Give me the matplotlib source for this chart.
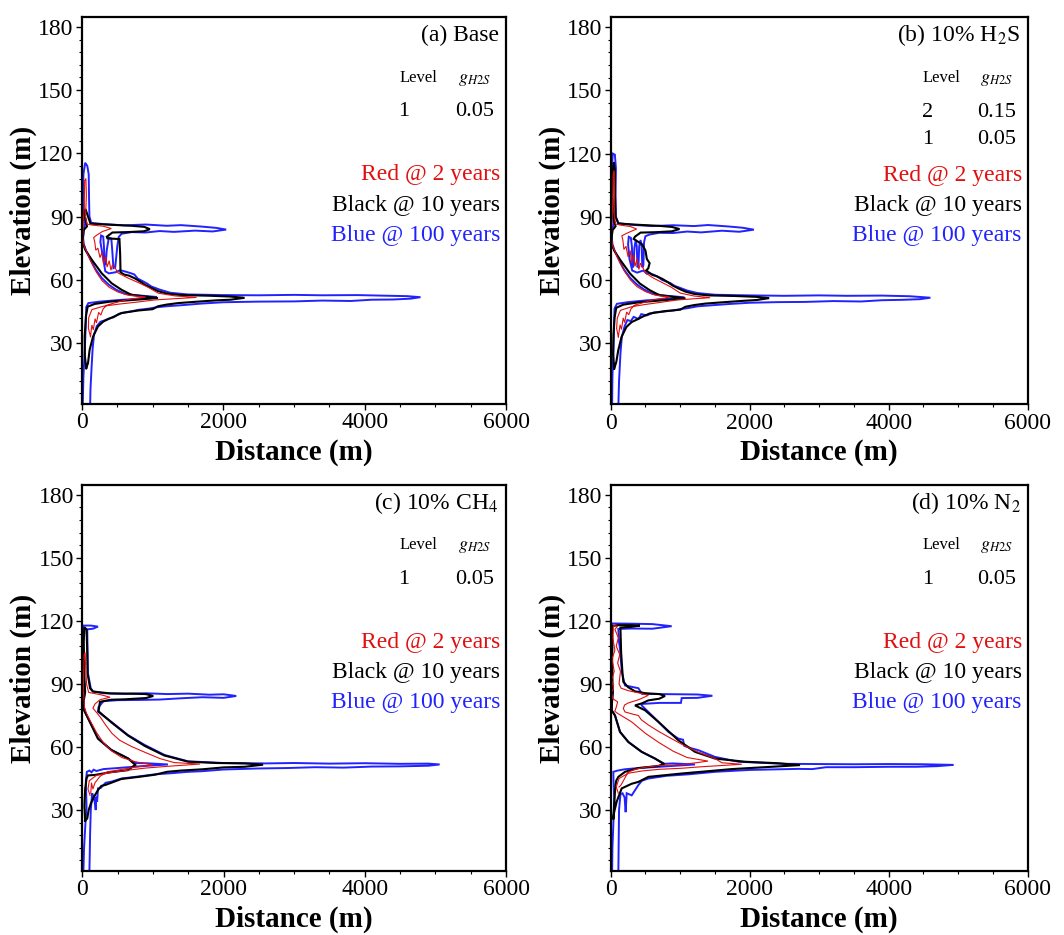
import matplotlib
matplotlib.use("Agg")
import matplotlib.pyplot as plt
from matplotlib.ticker import MultipleLocator

plt.rcParams['font.family'] = ['Liberation Serif', 'DejaVu Serif']
plt.rcParams['mathtext.fontset'] = 'stix'

# ---- contour traces (distance m, elevation m), g_H2S = 0.05 ------------------
A_BLUE = [(10, 0), (20, 14), (40, 27), (55, 40), (60, 47), (90, 48.9), (250, 49.6), (500, 50.3), (800, 51.0), (1060, 51.8),
          (750, 52.7), (600, 53.4), (480, 55.3), (380, 57.6), (280, 60.8), (190, 65), (120, 69.5), (60, 73.5), (25, 77), (15, 80),
          (25, 84), (45, 86.5), (30, 90), (15, 98), (20, 110), (45, 115.5), (75, 114), (95, 110), (100, 98), (105, 90),
          (130, 87), (300, 86.4), (600, 85.8), (900, 86.2), (1200, 85.6), (1400, 85.9), (1700, 85.2), (1900, 84.6), (2040, 83.8), (1850, 82.9),
          (1600, 83.3), (1300, 82.7), (1100, 83.1), (900, 82.4), (700, 82.6), (560, 81.8), (520, 80.3), (500, 76), (470, 66), (445, 65.5),
          (430, 73), (415, 79.5), (380, 80), (350, 74), (335, 67), (320, 68), (310, 76), (300, 80.5), (270, 81), (260, 78),
          (290, 72), (330, 64), (380, 63), (470, 63.5), (540, 64.5), (600, 64), (680, 63.2), (740, 62.5), (790, 60.5), (860, 59.3),
          (920, 58.2), (980, 56.8), (1100, 55.3), (1250, 53.8), (1500, 53.0), (2000, 52.7), (2500, 52.6), (3000, 52.8), (3400, 52.6), (3900, 52.7),
          (4300, 52.4), (4600, 52.2), (4790, 51.7), (4650, 51.0), (4400, 50.6), (4100, 50.5), (3800, 49.9), (3400, 50.1), (3000, 49.7), (2500, 49.6),
          (2000, 49.3), (1700, 48.7), (1450, 48.0), (1200, 47.4), (1050, 46.9), (950, 46.3), (800, 45.7), (700, 45.0), (600, 44.4), (520, 43.8),
          (450, 42.2), (380, 41.5), (320, 40.7), (260, 40), (210, 38), (170, 34), (150, 27), (135, 18), (120, 8), (115, 0)]
A_BLACK = [(60, 18), (40, 24), (38, 33), (55, 42.5), (80, 47.2), (180, 48.5), (400, 49.6), (650, 50.2), (1075, 51.3), (700, 52.8),
           (560, 55.2), (420, 58.3), (280, 63), (140, 69.4), (50, 74), (10, 77.3), (15, 80.5), (25, 83.6), (70, 85.3), (55, 88),
           (40, 90), (30, 92), (50, 93.5), (75, 91), (120, 86.6), (400, 86.1), (700, 85.6), (880, 85.1),
           (960, 84.0), (880, 83.0), (650, 82.6), (430, 82.4), (350, 80.4), (360, 79.6), (530, 79.3), (540, 72), (545, 63.5), (600, 62.4),
           (660, 62.0), (745, 60.7), (820, 59.2), (890, 57.6), (980, 56.1), (1075, 54.6), (1200, 53.4), (1400, 52.7), (1800, 52.4), (2100, 52.0),
           (2300, 51.4), (2100, 50.5), (1900, 50.2), (1600, 49.5), (1360, 48.9), (1200, 48.2), (1075, 47.4), (1000, 46.0), (800, 45.4), (560, 44.2),
           (460, 42.6), (370, 41.3), (300, 40.1), (226, 37.8), (156, 33), (108, 26.7), (85, 20.4), (60, 18)]
A_RED = [(120, 33), (90, 37), (95, 42), (140, 45.8), (300, 47.4), (520, 48.4), (760, 49.3), (1030, 50.4), (1320, 51.0), (1620, 51.6),
         (1320, 52.3), (1080, 53.6), (930, 56.5), (800, 58.6), (650, 60.8), (510, 63.2), (470, 65.5), (430, 67), (410, 64.5), (385, 69),
         (355, 66), (335, 71), (305, 67.5), (285, 73), (255, 70.5), (225, 75), (195, 74), (180, 78), (165, 80), (210, 81.2),
         (290, 82.9), (415, 84.3), (300, 85.4), (150, 85.9), (70, 86.4), (50, 90), (62, 100), (55, 108), (38, 107), (32, 95),
         (20, 88), (10, 80), (30, 76), (75, 72.5), (135, 68), (205, 63.5), (285, 59.5), (385, 56.4), (505, 54.2), (655, 52.6),
         (900, 51.8), (620, 50.4), (430, 48.7), (350, 47.9), (300, 46.2), (265, 43.2), (235, 44.5), (205, 39.5), (185, 41.5), (160, 36.2),
         (140, 38.5), (120, 33)]

B_BLUE = [(20, 0), (25, 14), (40, 27), (50, 40), (55, 46.5), (90, 48.7), (250, 49.5), (500, 50.3), (800, 51.0), (1060, 51.8),
          (750, 52.7), (600, 53.5), (480, 55.5), (380, 57.8), (280, 61), (190, 65), (120, 69.5), (60, 73.5), (25, 77), (15, 80),
          (25, 84), (40, 87), (25, 92), (10, 100), (15, 112), (30, 120), (60, 119.5), (75, 113), (70, 100), (75, 90),
          (110, 87), (300, 86.2), (600, 85.6), (900, 86.0), (1200, 85.6), (1400, 86.1), (1700, 85.4), (1900, 84.8), (2060, 83.9), (1850, 82.9),
          (1600, 83.4), (1300, 82.6), (1100, 83.0), (900, 82.3), (700, 82.4), (560, 81.6), (500, 80.8), (480, 78), (470, 67), (455, 66),
          (445, 76), (430, 79), (410, 76), (400, 67), (385, 66), (375, 76), (360, 79), (340, 75), (330, 67), (315, 66),
          (305, 76), (290, 80), (260, 80.5), (250, 77), (270, 70), (310, 64.5), (380, 63.5), (470, 64.5), (520, 63), (560, 63.2),
          (620, 62.5), (680, 61.5), (740, 60), (800, 59.3), (860, 58.5), (920, 57.2), (980, 56.5), (1100, 55), (1250, 53.8), (1500, 53.0),
          (2000, 52.7), (2500, 52.5), (3000, 52.7), (3400, 52.5), (3900, 52.6), (4300, 52.3), (4600, 51.6), (4450, 50.9), (4200, 50.6), (3900, 50.4),
          (3600, 49.8), (3200, 50.0), (2800, 49.6), (2400, 49.5), (2000, 49.2), (1700, 48.6), (1450, 48.0), (1250, 47.5), (1100, 46.6), (1000, 46.2),
          (900, 45.5), (750, 45.0), (620, 44.6), (520, 43.2), (440, 43.8), (400, 41.5), (330, 42.5), (290, 40.5), (240, 41), (200, 38),
          (160, 33), (140, 25), (120, 12), (110, 0)]
B_BLACK = [(50, 18), (35, 25), (40, 34), (55, 42), (80, 46.8), (180, 48.3), (400, 49.4), (650, 50.1), (1075, 51.3), (700, 52.8),
           (560, 55.2), (420, 58.3), (280, 63), (140, 69.4), (50, 74), (10, 77.3), (15, 80.5), (25, 83.6), (70, 85.5), (50, 88),
           (35, 92), (25, 100), (30, 112), (45, 116), (60, 112), (62, 100), (70, 90), (110, 86.8), (400, 86.2), (700, 85.7),
           (880, 85.2), (990, 84.2), (880, 83.1), (650, 82.7), (430, 82.5), (350, 80.6), (330, 79.5), (450, 77), (500, 74), (520, 70),
           (560, 68), (540, 65.5), (510, 64.5), (600, 62.4), (660, 61.8), (745, 60.5), (820, 59), (890, 57.4), (980, 55.9), (1075, 54.5),
           (1200, 53.4), (1400, 52.7), (1800, 52.4), (2100, 52.0), (2280, 51.4), (2100, 50.5), (1900, 50.1), (1600, 49.4), (1360, 48.8), (1200, 48.1),
           (1075, 47.3), (1000, 45.9), (800, 45.3), (560, 44.1), (460, 42.6), (370, 41.1), (300, 40), (226, 37.7), (156, 33), (108, 26.5),
           (80, 21), (50, 18)]
B_RED = [(110, 33), (85, 37), (95, 42), (140, 45.6), (300, 47.3), (500, 48.4), (720, 49.4), (950, 50.5), (1200, 51.1), (1430, 51.6),
         (1200, 52.4), (1000, 53.8), (870, 56.6), (740, 58.8), (610, 61), (500, 63.4), (460, 66), (430, 68), (405, 65), (380, 70),
         (350, 66.5), (330, 72), (300, 68), (280, 74), (250, 71), (220, 76), (190, 74.5), (175, 79), (160, 81), (220, 82),
         (300, 83.2), (374, 84.2), (280, 85.4), (150, 86), (70, 86.6), (45, 92), (55, 102), (50, 112), (35, 110), (28, 96),
         (18, 88), (10, 80), (30, 76), (75, 72.5), (135, 68), (205, 63.8), (285, 60), (380, 56.8), (500, 54.5), (640, 52.8),
         (850, 51.9), (600, 50.5), (420, 48.8), (340, 48), (290, 46.2), (260, 43.5), (230, 44.8), (200, 39.8), (180, 42), (155, 36.5),
         (135, 38.8), (110, 33)]

C_BLUE = [(15, 0), (25, 12), (45, 24), (60, 31), (55, 38), (50, 44), (65, 48.2), (100, 48.8), (130, 48.0), (160, 49.2),
          (200, 48.6), (300, 49.5), (500, 50.0), (800, 50.8), (1213, 51.7), (900, 52.3), (741, 52.4), (647, 54.6), (411, 58.6), (222, 64),
          (128, 70.5), (40, 76.5), (15, 80), (25, 84), (40, 86.5), (30, 91), (20, 100), (15, 110), (20, 117.8), (120, 117.8),
          (222, 117.3), (150, 116.3), (70, 116), (75, 105), (80, 95), (120, 88), (150, 86.5), (300, 85.6), (600, 85.3), (900, 85.6),
          (1200, 85.2), (1500, 85.4), (1800, 84.9), (2000, 85.1), (2180, 84.3), (2000, 83.4), (1700, 83.7), (1400, 83.2), (1100, 82.6), (800, 82.4),
          (500, 82.3), (300, 81.8), (230, 79), (222, 76.8), (411, 72), (647, 65.7), (883, 61), (1166, 56.2), (1497, 53.2), (2000, 52.4),
          (2600, 52.2), (3000, 52.4), (3500, 52.1), (4000, 52.3), (4500, 52.0), (4900, 52.1), (5060, 51.7), (4900, 51.1), (4500, 50.8), (4100, 50.7),
          (3700, 50.2), (3300, 50.4), (2900, 50.0), (2500, 49.8), (2000, 49.3), (1700, 48.5), (1497, 48.2), (1250, 47.5), (1025, 47), (800, 46),
          (553, 45), (411, 43.5), (330, 43), (260, 40.5), (222, 40.3), (210, 34), (199, 36.3), (190, 30), (175, 34), (160, 36),
          (140, 38), (120, 30), (110, 18), (105, 8), (100, 0)]
C_BLACK = [(40, 25), (30, 32), (40, 40), (60, 45), (80, 46.5), (175, 46.7), (400, 48), (647, 49), (750, 51.5), (647, 54.6),
           (411, 58.6), (222, 64), (128, 70.5), (40, 76.5), (15, 78), (20, 82), (40, 86), (30, 92), (25, 100), (20, 110),
           (30, 117), (60, 116), (70, 105), (75, 95), (110, 88), (150, 86.4), (400, 85.5), (700, 85.4), (900, 85.2), (1005, 84.3),
           (900, 83.3), (600, 82.7), (400, 82.5), (250, 81.5), (230, 77), (420, 71.5), (650, 65.4), (880, 60.6), (1160, 56.0), (1500, 53.0),
           (1900, 52.4), (2300, 52.2), (2560, 51.6), (2300, 50.6), (2000, 50.3), (1700, 49.4), (1400, 48.8), (1200, 48.2), (1025, 46.8), (800, 45.8),
           (553, 44.8), (411, 43), (330, 42), (270, 41.5), (222, 39.5), (160, 36), (120, 33), (90, 30), (70, 26), (40, 25)]
C_RED = [(110, 37), (80, 40), (100, 44), (200, 46.5), (400, 47.8), (650, 49), (900, 50), (1200, 50.8), (1667, 51.9), (1300, 52.6),
         (1100, 54.5), (900, 57.3), (700, 60.2), (530, 63.2), (420, 66.5), (330, 70.5), (260, 74), (200, 76.5), (150, 78.5), (180, 80.5),
         (250, 82.5), (392, 83.7), (260, 84.9), (150, 85.6), (90, 86), (60, 90), (45, 100), (40, 105), (25, 104), (20, 95),
         (15, 88), (25, 82), (30, 79), (60, 76), (120, 72), (200, 67), (300, 62), (420, 58), (560, 55), (750, 53),
         (1000, 51.5), (700, 50.2), (500, 49), (350, 48.2), (250, 46), (180, 43), (150, 40), (130, 43), (120, 38)]

D_BLUE = [(20, 0), (25, 12), (40, 25), (50, 36), (40, 44), (38, 48.2), (100, 48.8), (200, 49.4), (400, 50), (700, 50.6),
          (1213, 51.7), (900, 52.2), (758, 52.0), (638, 54.5), (446, 57.7), (254, 62.4), (134, 67.2), (62, 75), (14, 77.5), (20, 82),
          (30, 86), (20, 90), (15, 100), (20, 110), (15, 117), (30, 118.8), (300, 118.7), (600, 118.5), (877, 117.5), (600, 116.3),
          (300, 116.4), (110, 116.2), (120, 110), (134, 106.7), (150, 100), (160, 95.7), (206, 89.3), (398, 88), (450, 85.3), (700, 85.2),
          (1000, 85.1), (1250, 85.0), (1463, 84.4), (1250, 83.4), (1022, 83.3), (1010, 81), (700, 81), (446, 80.5), (446, 79.8), (542, 76.7),
          (686, 72), (830, 67.2), (974, 64), (1040, 63.5), (1060, 60.5), (1150, 59.5), (1261, 58.5), (1501, 55.3), (1837, 53), (2500, 52.0),
          (3000, 51.9), (3500, 51.8), (4000, 51.9), (4500, 51.8), (4930, 51.5), (4700, 50.9), (4400, 50.6), (4000, 50.6), (3500, 50.4), (3100, 50.4),
          (2900, 49.5), (2700, 49.6), (2000, 49.1), (1500, 48.2), (1117, 47), (800, 46.3), (542, 45), (450, 44), (398, 41.9), (302, 37),
          (230, 38), (215, 29), (200, 36), (170, 38), (140, 37.5), (120, 30), (115, 15), (110, 0)]
D_BLACK = [(38, 26), (50, 32), (60, 38), (70, 42), (80, 44), (110, 45.8), (206, 48.2), (400, 50), (686, 51), (770, 52),
           (638, 54.5), (446, 57.7), (254, 62.4), (134, 67.2), (62, 75), (14, 77.5), (20, 82), (30, 86), (25, 92), (20, 100),
           (25, 110), (20, 117.5), (100, 118), (300, 118), (420, 117.8), (300, 117.2), (140, 116.8), (150, 105), (170, 95), (182, 91),
           (250, 88.5), (350, 86.5), (500, 85.6), (700, 85.2), (781, 84.3), (700, 83), (542, 82.2), (450, 80.8), (350, 79.8), (494, 77.5),
           (686, 72), (974, 63.2), (1213, 57.7), (1501, 54.5), (1933, 53), (2400, 52.3), (2724, 51.4), (2317, 50.6), (1741, 49.5), (1400, 48.5),
           (1022, 47.4), (542, 45.8), (398, 43.4), (300, 42.5), (158, 40.3), (86, 34), (50, 29), (38, 26)]
D_RED = [(110, 38), (80, 41), (120, 45), (250, 47.5), (450, 48.6), (700, 49.4), (1022, 49.9), (1300, 50.6), (1600, 51.2), (1885, 51.8),
         (1600, 52.5), (1501, 54.5), (1261, 57.5), (1040, 61.0), (830, 64.8), (686, 67.5), (542, 70.5), (440, 73), (398, 75), (300, 75.8),
         (206, 76.7), (182, 78.3), (200, 80), (254, 81), (400, 82.5), (542, 84.6), (400, 85.8), (254, 86.8), (150, 88), (120, 90),
         (140, 96), (100, 100), (130, 104), (80, 108), (110, 112), (60, 116), (100, 117.5), (40, 117.8), (30, 112), (60, 106),
         (20, 102), (50, 96), (15, 92), (40, 88), (10, 86), (30, 83), (100, 81.5), (80, 79), (60, 77), (100, 76),
         (300, 72), (500, 66.5), (700, 62), (900, 58), (1100, 55), (1400, 53.3), (1000, 51.5), (700, 51.2), (500, 50.4), (350, 49.4),
         (250, 48), (200, 45), (150, 42), (120, 41)]

TITLES = ["(a) Base", "(b) 10% H$_2$S", "(c) 10% CH$_4$", "(d) 10% N$_2$"]
LEVELS = [["1"], ["2", "1"], ["1"], ["1"]]
G_VALUES = [["0.05"], ["0.15", "0.05"], ["0.05"], ["0.05"]]
TIMES = ["Red @ 2 years", "Black @ 10 years", "Blue @ 100 years"]

RED, BLACK, BLUE = "#e01010", "#000000", "#2222ff"

# axes boxes in figure pixels: left, right, top, bottom
BOXES = [(82, 506, 17, 404), (610.7, 1027.7, 17.3, 404.3),
         (82.3, 506, 485, 871), (610.7, 1027.7, 485, 871)]
W, H = 1064, 935

fig = plt.figure(figsize=(W / 100, H / 100), dpi=100)

panels = [(A_BLUE, A_BLACK, A_RED), (B_BLUE, B_BLACK, B_RED),
          (C_BLUE, C_BLACK, C_RED), (D_BLUE, D_BLACK, D_RED)]

for i, (box, curves) in enumerate(zip(BOXES, panels)):
    l, r, t, b = box
    ax = fig.add_axes([l / W, 1 - b / H, (r - l) / W, (b - t) / H])
    for pts, col, lw in zip(curves, (BLUE, BLACK, RED), (1.4, 1.5, 0.8)):
        xs, ys = zip(*pts)
        ax.plot(xs, ys, color=col, lw=lw, solid_joinstyle="miter")
    ax.set_xlim(0, 6000)
    ax.set_ylim(1, 184.7)
    ax.set_xticks([0, 2000, 4000, 6000])
    ax.set_yticks([30, 60, 90, 120, 150, 180])
    ax.xaxis.set_minor_locator(MultipleLocator(500))
    ax.yaxis.set_minor_locator(MultipleLocator(6))
    ax.tick_params(which="major", direction="out", length=4, width=1, labelsize=17, pad=2)
    ax.tick_params(which="minor", direction="out", length=2.5, width=0.8)
    for sp in ax.spines.values():
        sp.set_linewidth(1.6)

    ax.text(-0.139, 0.5, "Elevation (m)", transform=ax.transAxes, rotation=90,
            ha="center", va="center", fontsize=21, fontweight="bold")
    ax.text(0.5, -0.124, "Distance (m)", transform=ax.transAxes,
            ha="center", va="center", fontsize=21, fontweight="bold")

    ax.text(0.983, 0.953, TITLES[i], transform=ax.transAxes, ha="right", va="center", fontsize=17)
    ax.text(0.793, 0.833, "Level", transform=ax.transAxes, ha="center", va="baseline", fontsize=12)
    ax.text(0.926, 0.833, "$g_{H2S}$", transform=ax.transAxes, ha="center", va="baseline", fontsize=13)
    for k, (lv, gv) in enumerate(zip(LEVELS[i], G_VALUES[i])):
        yy = 0.755 - 0.07 * k
        ax.text(0.759, yy, lv, transform=ax.transAxes, ha="center", va="center", fontsize=16)
        ax.text(0.926, yy, gv, transform=ax.transAxes, ha="center", va="center", fontsize=16)
    for k, (txt, col) in enumerate(zip(TIMES, (RED, BLACK, BLUE))):
        ax.text(0.986, 0.592 - 0.078 * k, txt, transform=ax.transAxes, ha="right", va="center",
                fontsize=17, color=col)

fig.savefig("out.png", dpi=100)
